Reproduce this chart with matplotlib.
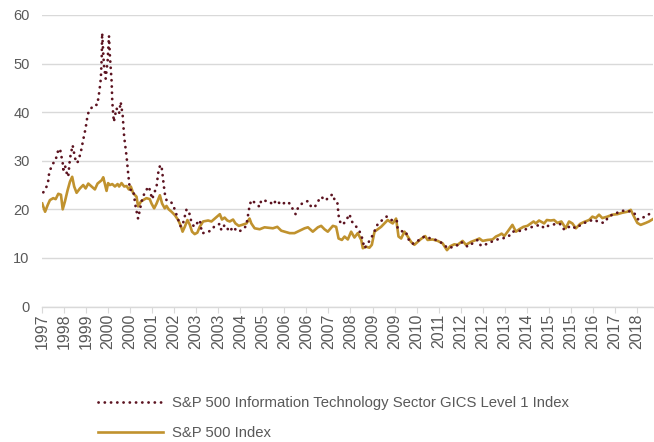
import matplotlib
matplotlib.use("Agg")
import matplotlib.pyplot as plt

plt.rcParams['font.family'] = ['Liberation Sans', 'DejaVu Sans']

# x position measured in tick-label steps (category axis of the original chart)
year_labels = ['1997', '1998', '1999', '2000', '2000', '2001', '2002', '2003', '2003',
               '2004', '2005', '2006', '2006', '2007', '2008', '2009', '2009', '2010',
               '2011', '2012', '2012', '2013', '2014', '2015', '2015', '2016', '2017', '2018']

# S&P 500 Information Technology Sector (forward P/E)
it_x = [0.06, 0.21, 0.29, 0.32, 0.41, 0.51, 0.59, 0.67, 0.75, 0.82, 0.94, 0.97, 1.04, 1.12,
        1.19, 1.27, 1.39, 1.50, 1.60, 1.75, 1.87, 1.98, 2.07, 2.14, 2.36, 2.51, 2.60, 2.67,
        2.71, 2.73, 2.81, 2.89, 2.98, 3.04, 3.08, 3.16, 3.19, 3.26, 3.38, 3.50, 3.57, 3.66,
        3.73, 3.84, 3.91, 3.99, 4.14, 4.25, 4.36, 4.52, 4.67, 4.85, 5.00, 5.20, 5.27, 5.35,
        5.42, 5.50, 5.57, 5.65, 5.85, 5.99, 6.18, 6.30, 6.40, 6.56, 6.67, 6.78, 6.90, 7.16,
        7.26, 7.46, 7.69, 7.84, 8.07, 8.14, 8.29, 8.52, 8.67, 8.87, 9.08, 9.27, 9.42, 9.50,
        9.65, 9.88, 9.95, 10.33, 10.48, 10.63, 10.86, 11.09, 11.24, 11.39, 11.51, 11.61,
        11.84, 12.07, 12.22, 12.37, 12.52, 12.67, 12.87, 13.05, 13.20, 13.28, 13.40, 13.46,
        13.50, 13.65, 13.81, 13.96, 14.03, 14.18, 14.33, 14.49, 14.56, 14.64, 14.86, 15.01,
        15.24, 15.42, 15.64, 15.84, 16.10, 16.14, 16.37, 16.52, 16.60, 16.82, 17.05, 17.35,
        17.66, 17.88, 18.18, 18.41, 18.79, 19.02, 19.32, 19.54, 19.77, 19.92, 20.22, 20.48,
        20.67, 20.90, 21.17, 21.35, 21.74, 21.96, 22.19, 22.41, 22.64, 22.79, 22.97, 23.17,
        23.37, 23.55, 23.70, 24.00, 24.23, 24.45, 24.71, 25.06, 25.25, 25.51, 25.74, 26.11,
        26.34, 26.56, 26.87, 27.06, 27.25, 27.40, 27.55, 27.67]
it_y = [23.5, 24.7, 26.0, 27.3, 28.6, 29.5, 29.8, 31.0, 32.4, 32.4, 29.5, 28.2, 29.1, 27.5,
        26.7, 30.5, 33.2, 30.5, 29.5, 31.5, 34.3, 36.7, 39.4, 40.3, 41.5, 41.5, 44.2, 46.9,
        51.1, 56.3, 49.7, 46.9, 50.7, 55.7, 51.7, 46.3, 42.1, 38.0, 40.8, 39.7, 42.1, 39.4,
        34.9, 30.8, 27.4, 24.0, 24.0, 20.5, 18.1, 21.6, 23.6, 24.7, 22.1, 24.7, 27.4, 28.9,
        29.1, 26.0, 23.3, 21.9, 21.6, 20.4, 17.9, 16.4, 17.1, 20.0, 19.5, 17.4, 16.4, 17.8,
        15.1, 15.2, 15.7, 16.6, 17.0, 15.7, 16.8, 15.4, 16.4, 15.4, 15.7, 16.6, 20.7, 21.9,
        21.4, 20.5, 21.9, 21.6, 20.9, 21.9, 20.9, 21.6, 21.2, 20.0, 19.0, 20.2,
        21.4, 21.7, 20.5, 20.4, 21.6, 22.6, 21.8, 22.7, 23.1, 21.9, 21.6, 18.8,
        17.6, 16.8, 17.8, 19.0, 17.7, 16.8, 16.1, 14.8, 13.4, 12.0, 13.5, 14.7,
        17.0, 17.7, 18.5, 17.8, 17.8, 16.1, 15.4, 15.4, 14.0, 12.9, 13.5, 14.4,
        14.0, 13.7, 13.0, 12.0, 12.4, 13.3, 12.3, 13.0, 13.7, 12.5, 12.9, 13.5,
        13.8, 14.0, 14.4, 15.4, 15.6, 15.9, 16.3, 16.6, 16.8, 16.1, 16.6, 16.8,
        17.1, 16.9, 15.8, 16.6, 16.1, 16.8, 17.4, 17.9, 17.4, 17.2, 18.6, 19.3,
        19.7, 19.7, 19.3, 17.9, 18.3, 18.5, 19.0, 20.0]

# S&P 500 Index (forward P/E)
sp_x = [0.01, 0.14, 0.26, 0.36, 0.51, 0.62, 0.74, 0.86, 0.94, 1.04, 1.16, 1.27, 1.37, 1.46,
        1.57, 1.72, 1.87, 1.98, 2.10, 2.25, 2.40, 2.52, 2.71, 2.78, 2.85, 2.93, 3.00, 3.08,
        3.19, 3.31, 3.43, 3.50, 3.61, 3.73, 3.84, 3.94, 4.03, 4.14, 4.29, 4.36, 4.49, 4.59,
        4.74, 4.89, 4.97, 5.09, 5.20, 5.35, 5.45, 5.57, 5.65, 5.75, 5.88, 6.03, 6.18, 6.30,
        6.38, 6.48, 6.60, 6.71, 6.81, 6.93, 7.05, 7.16, 7.31, 7.54, 7.69, 7.84, 8.07, 8.17,
        8.29, 8.41, 8.52, 8.67, 8.78, 8.93, 9.08, 9.28, 9.42, 9.50, 9.65, 9.88, 10.10, 10.48,
        10.68, 10.86, 11.01, 11.24, 11.46, 11.69, 11.92, 12.07, 12.29, 12.52, 12.67, 12.82,
        12.97, 13.20, 13.35, 13.46, 13.61, 13.73, 13.88, 14.03, 14.18, 14.33, 14.49, 14.56,
        14.71, 14.86, 14.97, 15.09, 15.24, 15.39, 15.54, 15.69, 15.81, 15.92, 16.07, 16.18,
        16.30, 16.45, 16.60, 16.75, 16.90, 17.05, 17.20, 17.39, 17.50, 17.73, 17.96, 18.18,
        18.38, 18.53, 18.71, 18.86, 19.09, 19.24, 19.47, 19.70, 19.85, 20.00, 20.22, 20.45,
        20.60, 20.75, 20.86, 20.98, 21.13, 21.35, 21.51, 21.66, 21.85, 22.03, 22.19, 22.31,
        22.41, 22.56, 22.79, 22.91, 23.09, 23.24, 23.39, 23.57, 23.67, 23.77, 23.92, 24.07,
        24.23, 24.42, 24.60, 24.83, 24.98, 25.13, 25.28, 25.43, 25.66, 25.89, 26.11, 26.34,
        26.56, 26.72, 26.87, 27.02, 27.17, 27.40, 27.55, 27.73]
sp_y = [21.2, 19.5, 20.9, 21.9, 22.3, 22.1, 23.2, 23.0, 20.0, 21.6, 23.9, 25.7, 26.7, 24.7,
        23.4, 24.3, 25.0, 24.3, 25.3, 24.7, 24.1, 25.3, 26.0, 26.6, 25.3, 23.8, 25.4, 25.0,
        25.2, 24.7, 25.2, 24.7, 25.4, 24.7, 24.8, 24.1, 24.7, 23.3, 22.6, 20.6, 21.6, 21.9,
        22.3, 22.1, 21.2, 20.2, 21.2, 22.9, 21.2, 20.2, 20.7, 20.0, 19.5, 18.8, 17.8, 16.6,
        15.4, 16.4, 17.8, 16.8, 15.4, 14.9, 15.2, 16.4, 17.5, 17.7, 17.5, 18.1, 19.0, 17.9,
        18.3, 17.7, 17.5, 17.9, 17.1, 16.6, 16.8, 17.1, 18.1, 17.1, 16.1, 15.9, 16.3, 16.1,
        16.4, 15.6, 15.4, 15.1, 15.1, 15.6, 16.1, 16.3, 15.4, 16.3, 16.6, 15.9,
        15.4, 16.6, 16.4, 14.0, 13.7, 14.4, 13.8, 15.4, 14.2, 15.1, 13.7, 12.0,
        12.3, 12.1, 12.7, 15.4, 15.9, 16.4, 17.1, 17.8, 17.4, 17.1, 18.1, 14.4,
        14.0, 15.4, 14.4, 13.3, 12.7, 13.3, 13.9, 14.5, 13.7, 13.8, 13.5, 13.0,
        11.6, 12.4, 12.8, 12.7, 13.5, 12.7, 13.3, 13.7, 14.0, 13.5, 13.7, 13.8,
        14.4, 14.7, 15.0, 14.5, 15.4, 16.8, 15.4, 15.9, 16.4, 16.6, 17.1, 17.5,
        17.1, 17.7, 17.1, 17.8, 17.7, 17.8, 17.2, 17.5, 16.8, 16.1, 17.5, 17.1,
        16.1, 17.0, 17.4, 17.8, 18.5, 18.2, 18.9, 18.2, 18.5, 18.9, 19.0, 19.3,
        19.5, 19.9, 18.5, 17.2, 16.8, 17.2, 17.5, 18.0]

labels = ['S&P 500 Information Technology Sector GICS Level 1 Index', 'S&P 500 Index']

txt = '#595959'
grid = '#d9d9d9'

fig = plt.figure(figsize=(6.54, 4.42), dpi=100)
ax = fig.add_axes([42 / 654, 1 - 306.5 / 442, 611 / 654, 291.5 / 442])

ax.plot(it_x, it_y, color='#5c1320', lw=2.0, linestyle=(0, (0.05, 2.2)),
        dash_capstyle='round', label=labels[0], zorder=3)
ax.plot(sp_x, sp_y, color='#c0922e', lw=1.9, label=labels[1], zorder=2)

ax.set_xlim(0, 27.73)
ax.set_ylim(0, 60)
ax.set_yticks(range(0, 61, 10))
ax.set_xticks(range(len(year_labels)))
ax.set_xticklabels(year_labels, rotation=90)

ax.grid(axis='y', color=grid, lw=1)
ax.set_axisbelow(True)
for s in ['top', 'right', 'left']:
    ax.spines[s].set_visible(False)
ax.spines['bottom'].set_color(grid)
ax.spines['bottom'].set_linewidth(1)
ax.tick_params(axis='y', length=0, pad=9, labelsize=10.5, labelcolor=txt)
ax.tick_params(axis='x', length=4, color=grid, pad=1, labelsize=11.5, labelcolor=txt)

fig.legend(loc='center left', bbox_to_anchor=(98 / 654, 1 - 418 / 442), frameon=False,
           fontsize=10.7, labelcolor=txt, handlelength=4.4, handletextpad=0.55,
           labelspacing=1.1, borderpad=0, borderaxespad=0)

fig.savefig('out.png', dpi=100)
